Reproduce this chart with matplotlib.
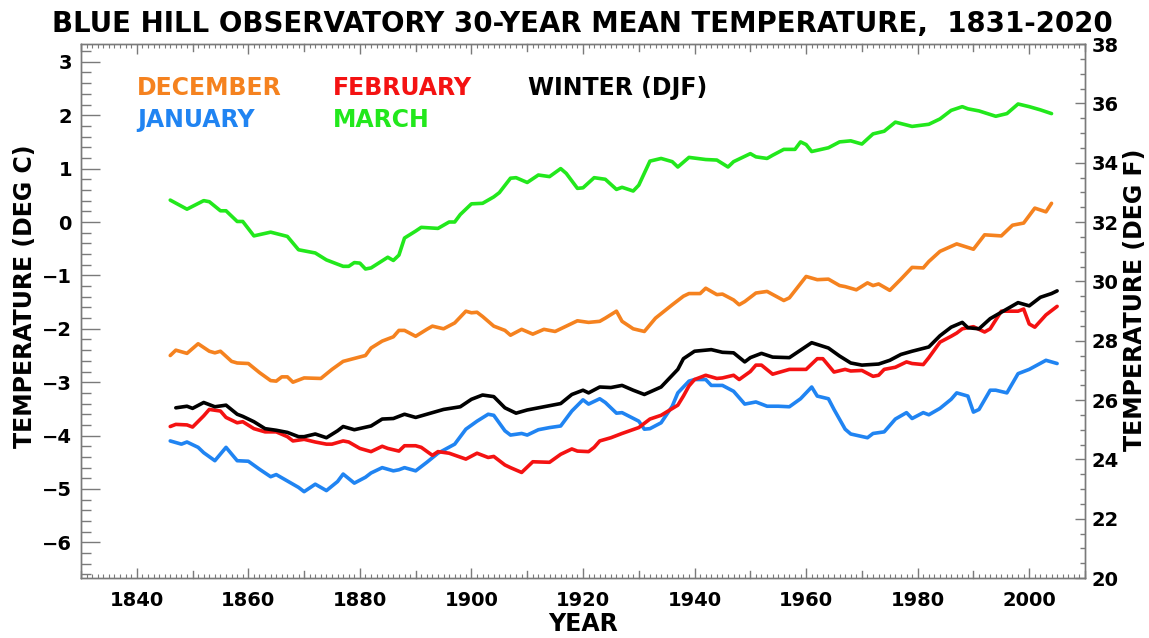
import matplotlib
matplotlib.use("Agg")
import matplotlib.pyplot as plt
from matplotlib.ticker import MultipleLocator

plt.rcParams['font.family'] = ['DejaVu Sans']
plt.rcParams['font.weight'] = 'bold'

# ---------------- data (deg C, 30-year running means) ----------------
dec_years = [1846, 1847, 1849, 1851, 1853, 1854, 1855, 1857, 1858, 1860, 1862, 1864, 1865, 1866,
             1867, 1868, 1870, 1873, 1875, 1877, 1881, 1882, 1884, 1886, 1887, 1888, 1890, 1892,
             1893, 1895, 1897, 1899, 1900, 1901, 1902, 1904, 1906, 1907, 1909, 1911, 1913, 1915,
             1917, 1919, 1921, 1923, 1924, 1926, 1927, 1929, 1931, 1933, 1936, 1938, 1939, 1941,
             1942, 1944, 1945, 1947, 1948, 1949, 1951, 1953, 1956, 1957, 1960, 1962, 1964, 1966,
             1967, 1969, 1971, 1972, 1973, 1975, 1977, 1979, 1981, 1982, 1984, 1987, 1990, 1992,
             1995, 1997, 1999, 2001, 2003, 2004]
dec_vals = [-2.50, -2.40, -2.46, -2.28, -2.42, -2.45, -2.42, -2.61, -2.64, -2.65, -2.82, -2.97,
            -2.98, -2.90, -2.90, -3.00, -2.92, -2.93, -2.76, -2.61, -2.50, -2.36, -2.23, -2.15,
            -2.03, -2.03, -2.14, -2.01, -1.95, -2.00, -1.89, -1.67, -1.70, -1.69, -1.77, -1.95,
            -2.03, -2.12, -2.01, -2.10, -2.01, -2.05, -1.95, -1.85, -1.88, -1.86, -1.80, -1.67,
            -1.86, -2.00, -2.05, -1.80, -1.55, -1.39, -1.34, -1.34, -1.24, -1.36, -1.35, -1.46,
            -1.55, -1.49, -1.33, -1.30, -1.47, -1.42, -1.02, -1.08, -1.07, -1.19, -1.21, -1.27,
            -1.14, -1.19, -1.16, -1.28, -1.07, -0.85, -0.86, -0.74, -0.55, -0.41, -0.51, -0.24,
            -0.26, -0.06, -0.02, 0.26, 0.19, 0.35]

jan_years = [1846, 1848, 1849, 1851, 1852, 1854, 1856, 1858, 1860, 1862, 1864, 1865, 1867, 1869,
             1870, 1872, 1874, 1876, 1877, 1879, 1881, 1882, 1884, 1886, 1887, 1888, 1890, 1892,
             1894, 1897, 1899, 1901, 1903, 1904, 1906, 1907, 1909, 1910, 1912, 1914, 1916, 1918,
             1920, 1921, 1923, 1924, 1926, 1927, 1930, 1931, 1932, 1934, 1936, 1937, 1939, 1940,
             1942, 1943, 1945, 1947, 1949, 1951, 1953, 1955, 1957, 1959, 1961, 1962, 1964, 1965,
             1967, 1968, 1971, 1972, 1974, 1976, 1978, 1979, 1981, 1982, 1984, 1986, 1987, 1989,
             1990, 1991, 1993, 1994, 1996, 1998, 2000, 2003, 2005]
jan_vals = [-4.10, -4.16, -4.12, -4.22, -4.32, -4.47, -4.22, -4.47, -4.48, -4.63, -4.77, -4.73,
            -4.85, -4.97, -5.05, -4.91, -5.03, -4.86, -4.72, -4.89, -4.78, -4.70, -4.60, -4.66,
            -4.64, -4.60, -4.66, -4.50, -4.33, -4.16, -3.88, -3.73, -3.60, -3.62, -3.91, -3.99,
            -3.96, -3.99, -3.89, -3.85, -3.82, -3.54, -3.33, -3.41, -3.31, -3.38, -3.58, -3.57,
            -3.73, -3.88, -3.87, -3.76, -3.45, -3.20, -2.98, -2.95, -2.95, -3.06, -3.06, -3.17,
            -3.41, -3.37, -3.45, -3.45, -3.46, -3.31, -3.09, -3.26, -3.31, -3.51, -3.88, -3.97,
            -4.04, -3.96, -3.93, -3.69, -3.57, -3.68, -3.57, -3.61, -3.49, -3.32, -3.20, -3.26,
            -3.56, -3.51, -3.15, -3.15, -3.20, -2.84, -2.76, -2.59, -2.65]

feb_years = [1846, 1847, 1849, 1850, 1852, 1853, 1855, 1856, 1858, 1859, 1861, 1863, 1865, 1867,
             1868, 1870, 1872, 1874, 1875, 1877, 1878, 1880, 1882, 1884, 1885, 1887, 1888, 1890,
             1891, 1893, 1894, 1896, 1899, 1901, 1903, 1904, 1906, 1907, 1909, 1911, 1914, 1916,
             1918, 1919, 1921, 1922, 1923, 1925, 1927, 1930, 1932, 1934, 1937, 1938, 1939, 1940,
             1942, 1944, 1945, 1947, 1948, 1950, 1951, 1952, 1954, 1957, 1960, 1962, 1963, 1965,
             1967, 1968, 1970, 1972, 1973, 1974, 1976, 1978, 1979, 1981, 1982, 1984, 1986, 1987,
             1988, 1990, 1992, 1993, 1995, 1998, 1999, 2000, 2001, 2003, 2005]
feb_vals = [-3.83, -3.79, -3.80, -3.84, -3.63, -3.51, -3.54, -3.66, -3.76, -3.74, -3.87, -3.93,
            -3.93, -4.02, -4.10, -4.07, -4.12, -4.16, -4.16, -4.10, -4.12, -4.24, -4.30, -4.20,
            -4.24, -4.29, -4.19, -4.19, -4.22, -4.37, -4.30, -4.33, -4.44, -4.33, -4.41, -4.39,
            -4.55, -4.60, -4.69, -4.49, -4.50, -4.35, -4.25, -4.29, -4.30, -4.22, -4.10, -4.04,
            -3.96, -3.85, -3.69, -3.62, -3.43, -3.26, -3.07, -2.95, -2.87, -2.93, -2.92, -2.87,
            -2.95, -2.80, -2.68, -2.68, -2.85, -2.76, -2.76, -2.56, -2.56, -2.81, -2.76, -2.79,
            -2.78, -2.89, -2.87, -2.76, -2.72, -2.62, -2.65, -2.67, -2.54, -2.25, -2.14, -2.08,
            -2.00, -1.96, -2.06, -2.00, -1.67, -1.67, -1.63, -1.91, -1.97, -1.74, -1.58]

mar_years = [1846, 1849, 1852, 1853, 1855, 1856, 1858, 1859, 1861, 1864, 1867, 1869, 1872, 1874,
             1877, 1878, 1879, 1880, 1881, 1882, 1885, 1886, 1887, 1888, 1890, 1891, 1894, 1896,
             1897, 1898, 1900, 1902, 1904, 1905, 1907, 1908, 1910, 1912, 1914, 1916, 1917, 1919,
             1920, 1922, 1924, 1926, 1927, 1929, 1930, 1932, 1934, 1936, 1937, 1939, 1942, 1944,
             1946, 1947, 1950, 1951, 1953, 1954, 1956, 1958, 1959, 1960, 1961, 1964, 1966, 1968,
             1970, 1972, 1974, 1976, 1979, 1982, 1984, 1986, 1988, 1989, 1991, 1994, 1996, 1998,
             2000, 2002, 2004]
mar_vals = [0.41, 0.24, 0.40, 0.38, 0.21, 0.21, 0.01, 0.01, -0.26, -0.19, -0.27, -0.52, -0.58,
            -0.71, -0.83, -0.83, -0.76, -0.77, -0.88, -0.86, -0.66, -0.72, -0.62, -0.30, -0.17,
            -0.10, -0.12, 0.00, 0.00, 0.14, 0.34, 0.35, 0.47, 0.55, 0.82, 0.83, 0.74, 0.88, 0.85,
            1.00, 0.91, 0.63, 0.64, 0.83, 0.80, 0.61, 0.65, 0.58, 0.69, 1.14, 1.19, 1.13, 1.03,
            1.21, 1.17, 1.16, 1.03, 1.13, 1.28, 1.22, 1.19, 1.25, 1.36, 1.36, 1.50, 1.45, 1.32,
            1.39, 1.50, 1.52, 1.46, 1.65, 1.70, 1.87, 1.79, 1.83, 1.93, 2.09, 2.16, 2.12, 2.08,
            1.98, 2.03, 2.21, 2.16, 2.10, 2.03]

djf_years = [1847, 1849, 1850, 1852, 1854, 1856, 1858, 1859, 1861, 1863, 1865, 1867, 1869, 1870,
             1872, 1874, 1876, 1877, 1879, 1882, 1884, 1886, 1888, 1890, 1892, 1895, 1898, 1900,
             1902, 1904, 1906, 1908, 1910, 1913, 1916, 1918, 1920, 1921, 1923, 1925, 1927, 1929,
             1931, 1934, 1937, 1938, 1940, 1943, 1945, 1947, 1949, 1950, 1952, 1954, 1957, 1959,
             1961, 1964, 1966, 1968, 1970, 1973, 1975, 1977, 1979, 1982, 1984, 1986, 1988, 1989,
             1991, 1993, 1995, 1998, 2000, 2002, 2004, 2005]
djf_vals = [-3.48, -3.45, -3.49, -3.38, -3.46, -3.43, -3.60, -3.64, -3.74, -3.87, -3.90, -3.94,
            -4.02, -4.02, -3.97, -4.04, -3.91, -3.83, -3.89, -3.82, -3.69, -3.68, -3.60, -3.66,
            -3.60, -3.51, -3.46, -3.32, -3.24, -3.27, -3.48, -3.58, -3.52, -3.46, -3.40, -3.23,
            -3.15, -3.20, -3.09, -3.10, -3.06, -3.15, -3.23, -3.09, -2.76, -2.56, -2.42, -2.39,
            -2.44, -2.45, -2.62, -2.54, -2.46, -2.53, -2.54, -2.40, -2.26, -2.36, -2.51, -2.64,
            -2.68, -2.66, -2.59, -2.48, -2.42, -2.34, -2.13, -1.97, -1.88, -1.98, -2.00, -1.81,
            -1.69, -1.51, -1.57, -1.41, -1.34, -1.29]

series_labels = ['DECEMBER', 'JANUARY', 'FEBRUARY', 'MARCH', 'WINTER (DJF)']
series_colors = ['#F5821F', '#2084F2', '#F41212', '#22E81C', '#000000']

title_text = 'BLUE HILL OBSERVATORY 30-YEAR MEAN TEMPERATURE,  1831-2020'

# ---------------- figure ----------------
W, H = 1149, 638
fig = plt.figure(figsize=(W / 100, H / 100), dpi=100)
L, R, T, B = 81, 1085, 44, 578
ax = fig.add_axes([L / W, 1 - B / H, (R - L) / W, (B - T) / H])

data = [(dec_years, dec_vals), (jan_years, jan_vals), (feb_years, feb_vals),
        (mar_years, mar_vals), (djf_years, djf_vals)]
for (yrs, vals), c in zip(data, series_colors):
    ax.plot(yrs, vals, color=c, lw=2.6, solid_joinstyle='round', solid_capstyle='round')

ax.set_xlim(1830, 2010)
ax.set_ylim((20 - 32) / 1.8, (38 - 32) / 1.8)

spine_col = '#7a7a7a'
for s in ax.spines.values():
    s.set_color(spine_col)
    s.set_linewidth(1.0)

ax.set_xticks(range(1840, 2001, 20), labels=[str(y) for y in range(1840, 2001, 20)])
ax.xaxis.set_minor_locator(MultipleLocator(1))

ax.yaxis.set_major_locator(MultipleLocator(1))
ax.yaxis.set_minor_locator(MultipleLocator(0.2))
ax.tick_params(axis='y', which='major', direction='in', length=14, width=1.0,
               color=spine_col, labelsize=14, pad=6.5, left=True, right=False)
ax.tick_params(axis='y', which='minor', direction='in', length=7, width=1.0,
               color=spine_col, left=True, right=False)
ax.tick_params(axis='x', which='major', direction='in', length=7, width=1.0,
               color=spine_col, labelsize=14, pad=9, top=True, bottom=True)
ax.tick_params(axis='x', which='minor', direction='in', length=3, width=0.8,
               color=spine_col, top=True, bottom=True)
# unlabelled decade ticks drawn long like the labelled ones
for yr in range(1830, 2011, 10):
    if yr % 20 != 0:
        ax.plot([yr, yr], [0, 0.013], transform=ax.get_xaxis_transform(),
                color=spine_col, lw=1.0, clip_on=False)
        ax.plot([yr, yr], [1, 1 - 0.013], transform=ax.get_xaxis_transform(),
                color=spine_col, lw=1.0, clip_on=False)

ax2 = ax.twinx()
ax2.set_ylim(20, 38)
ax2.yaxis.set_major_locator(MultipleLocator(2))
ax2.yaxis.set_minor_locator(MultipleLocator(0.5))
ax2.tick_params(axis='y', which='major', direction='in', length=7, width=1.0,
                color=spine_col, labelsize=14, pad=5)
ax2.tick_params(axis='y', which='minor', direction='in', length=3.6, width=1.0,
                color=spine_col)
for s in ax2.spines.values():
    s.set_color(spine_col)
    s.set_linewidth(1.0)

# labels
fig.text(52 / W, 1 - 32 / H, title_text, fontsize=19.9, fontweight='bold',
         ha='left', va='baseline')
fig.text(25 / W, 1 - 296 / H, 'TEMPERATURE (DEG C)', rotation=90, fontsize=17,
         fontweight='bold', ha='center', va='center')
fig.text(1135 / W, 1 - 300 / H, 'TEMPERATURE (DEG F)', rotation=90, fontsize=17,
         fontweight='bold', ha='center', va='center')
fig.text(583 / W, 1 - 631 / H, 'YEAR', fontsize=17, fontweight='bold',
         ha='center', va='baseline')

# in-plot legend text
leg_pos = [(137, 95), (137, 127), (333, 95), (333, 127), (528, 95)]
for lab, c, (px, py) in zip(series_labels, series_colors, leg_pos):
    fig.text(px / W, 1 - py / H, lab, color=c, fontsize=17, fontweight='bold',
             ha='left', va='baseline')

fig.savefig('out.png', dpi=100)
